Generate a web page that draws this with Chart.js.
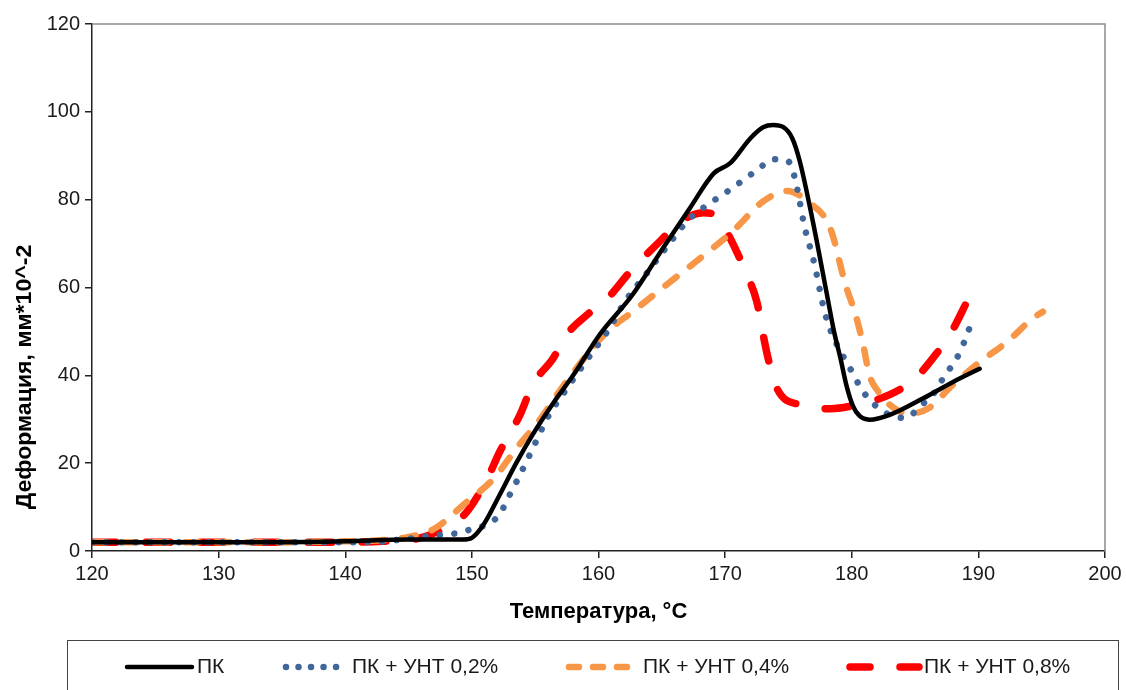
<!DOCTYPE html>
<html>
<head>
<meta charset="utf-8">
<script src="https://cdn.jsdelivr.net/npm/chart.js@4"></script>
<style>
  body { margin: 0; background: #fff; }
  #wrap { width: 1126px; height: 690px; }
</style>
</head>
<body>
<div id="wrap"><canvas id="chart"></canvas></div>
<script>
// values
const seriesNames = ['ПК', 'ПК + УНТ 0,2%', 'ПК + УНТ 0,4%', 'ПК + УНТ 0,8%'];

const pkX = [120, 125, 130, 135, 140, 145, 148, 149.3, 150, 150.9, 152.2, 153.5, 154.8, 156.5, 158, 160.1, 162.7, 165.1, 167.2, 169.1, 170.4, 172, 173, 173.8, 174.6, 175.3, 175.9, 177, 178, 178.6, 179.1, 179.6, 180.1, 180.6, 181.4, 183, 185.6, 188, 190.1];
const pkY = [2, 2, 2, 2, 2.2, 2.6, 2.6, 2.6, 3, 5.9, 12.8, 20, 26.5, 34, 40, 49.3, 58.4, 69, 78, 86, 88.3, 94, 96.5, 97, 96.5, 94, 88.7, 74, 59, 50, 44, 37.5, 33, 30.8, 29.9, 31, 34.7, 38.5, 41.5];

const unt02X = [120, 125, 130, 135, 140, 143, 145, 147.2, 148.5, 150, 151.3, 152.2, 152.9, 153.6, 154.8, 156, 157.5, 159.1, 160.7, 162.1, 163.8, 165.4, 167.1, 168.2, 170.4, 172.6, 173.8, 175, 175.5, 176.3, 177, 177.9, 178.9, 179.6, 180.9, 181.8, 183, 184.3, 185.4, 186.4, 187.1, 187.9, 188.6, 189.1, 189.6];
const unt02Y = [2, 2, 2, 2, 2, 2.2, 2.8, 3.6, 3.9, 5, 6.2, 8.4, 12.3, 16.2, 23.3, 30.5, 37, 43.6, 50, 56.8, 63.2, 69.3, 75.4, 78, 82.3, 86.9, 89.2, 88.7, 85, 73.5, 66, 54, 46.5, 43, 36.3, 33.3, 31, 30.3, 33, 35.6, 38.8, 42.2, 45.6, 49.3, 53];

const unt04X = [120, 125, 130, 135, 140, 143, 145, 147, 149.6, 151.7, 153.5, 155.4, 156.9, 159.1, 160.7, 162.7, 165.4, 168, 170.6, 173, 174.9, 176.5, 178.3, 179.5, 180.3, 180.9, 181.4, 182.1, 183, 184.4, 186, 188, 190.1, 192.3, 194.3, 195.1];
const unt04Y = [2, 2, 2, 2, 2.2, 2.5, 3.2, 5, 11.2, 16.4, 23.3, 30, 36.3, 44.7, 50, 54.5, 60.7, 66.6, 72.8, 79.6, 82, 79.6, 73.5, 60.7, 53.8, 47, 40, 36.3, 33.3, 31.3, 32.4, 37.9, 43, 47.7, 53, 54.5];

const unt08X = [120, 125, 130, 135, 140, 143, 145.7, 148.3, 149.6, 151.2, 152.2, 153.8, 154.8, 156.4, 157.5, 159.1, 160.7, 162.7, 164.6, 165.9, 167.2, 168.3, 169.4, 170.4, 171.7, 172.5, 173, 173.4, 174.1, 175.9, 178.3, 180.7, 183, 184.9, 186.7, 187.9, 189.1, 190];
const unt08Y = [2, 2, 2, 2, 2, 2.2, 2.8, 5.9, 8.9, 16.4, 22.6, 31, 37.9, 43.8, 49.3, 53.8, 57.5, 64.3, 69.8, 73.5, 76.2, 77, 76.2, 71.2, 63, 56.8, 49.3, 43.8, 37, 33.3, 32.4, 33.5, 35.6, 39, 45, 50, 56.8, 62];

const xTitle = 'Температура, °C';
const yTitle = 'Деформация, мм*10^-2';

const FONT = '"Liberation Sans", Arial, sans-serif';

function pts(xs, ys) {
    return xs.map((x, i) => ({ x: x, y: ys[i] }));
}

// legend sample positions (left, right) and text start
const legendSlots = [[127, 192, 197], [286, 347, 352], [569, 638, 643], [850, 919, 924]];

const frameAndLegend = {
    id: 'frameAndLegend',
    afterDraw(chart) {
        const ctx = chart.ctx;
        const a = chart.chartArea;
        ctx.save();
        // grey top and right frame
        ctx.strokeStyle = '#8c8c8c';
        ctx.lineWidth = 1.5;
        ctx.beginPath();
        ctx.moveTo(a.left, a.top);
        ctx.lineTo(a.right, a.top);
        ctx.lineTo(a.right, a.bottom);
        ctx.stroke();

        // y axis title, sits lower than the plot centre in the original
        ctx.save();
        ctx.translate(25, 377);
        ctx.rotate(-Math.PI / 2);
        ctx.scale(1.05, 1);
        ctx.font = 'bold 22px ' + FONT;
        ctx.fillStyle = '#000';
        ctx.textAlign = 'center';
        ctx.textBaseline = 'middle';
        ctx.fillText(yTitle, 0, 0);
        ctx.restore();

        // legend box
        ctx.strokeStyle = '#444';
        ctx.lineWidth = 1;
        ctx.strokeRect(67.5, 640.5, 1051, 60);

        const y = 667;
        chart.data.datasets.forEach((ds, i) => {
            const s = legendSlots[i];
            ctx.beginPath();
            ctx.setLineDash(ds.legendDash || []);
            ctx.lineCap = 'round';
            ctx.strokeStyle = ds.borderColor;
            ctx.lineWidth = ds.borderWidth;
            ctx.moveTo(s[0], y);
            ctx.lineTo(s[1], y);
            ctx.stroke();
            ctx.setLineDash([]);
            ctx.fillStyle = '#1a1a1a';
            ctx.font = '21px ' + FONT;
            ctx.textBaseline = 'middle';
            ctx.textAlign = 'left';
            ctx.fillText(ds.label, s[2], y);
        });
        ctx.restore();
    }
};

new Chart(document.getElementById('chart'), {
    type: 'line',
    data: {
        datasets: [
            {
                label: seriesNames[0],
                data: pts(pkX, pkY),
                borderColor: '#000000',
                borderWidth: 4.5,
                borderCapStyle: 'round',
            },
            {
                label: seriesNames[1],
                data: pts(unt02X, unt02Y),
                borderColor: '#41679a',
                borderWidth: 6.5,
                borderDash: [0.01, 14.5],
                legendDash: [0.01, 12.5],
                borderCapStyle: 'round',
            },
            {
                label: seriesNames[2],
                data: pts(unt04X, unt04Y),
                borderColor: '#f79646',
                borderWidth: 6.5,
                borderDash: [14, 17],
                legendDash: [10, 14],
                borderCapStyle: 'round',
            },
            {
                label: seriesNames[3],
                data: pts(unt08X, unt08Y),
                borderColor: '#ff0000',
                borderWidth: 7.5,
                borderDash: [24, 30],
                legendDash: [20, 30],
                borderCapStyle: 'round',
            },
        ]
    },
    options: {
        responsive: true,
        maintainAspectRatio: false,
        animation: false,
        layout: { padding: { top: 24, right: 21, left: 0, bottom: 0 } },
        elements: {
            point: { radius: 0, hoverRadius: 0 },
            line: { cubicInterpolationMode: 'monotone', fill: false }
        },
        scales: {
            x: {
                type: 'linear',
                min: 120,
                max: 200,
                afterFit: s => { s.height = 139; },
                ticks: { stepSize: 10, color: '#1a1a1a', padding: 4, font: { family: FONT, size: 20 } },
                grid: { drawOnChartArea: false, drawTicks: true, tickLength: 7, color: '#222', lineWidth: 1.5 },
                border: { color: '#222', width: 1.5 },
                title: {
                    display: true,
                    text: xTitle,
                    color: '#000',
                    font: { family: FONT, size: 22, weight: 'bold' },
                    padding: { top: 0, bottom: 65 }
                }
            },
            y: {
                min: 0,
                max: 120,
                afterFit: s => { s.width = 92; },
                ticks: { stepSize: 20, color: '#1a1a1a', padding: 5, font: { family: FONT, size: 20 } },
                grid: { drawOnChartArea: false, drawTicks: true, tickLength: 7, color: '#222', lineWidth: 1.5 },
                border: { color: '#222', width: 1.5 },
                title: { display: false }
            }
        },
        plugins: {
            legend: { display: false },
            tooltip: { enabled: false }
        }
    },
    plugins: [frameAndLegend]
});
</script>
</body>
</html>
